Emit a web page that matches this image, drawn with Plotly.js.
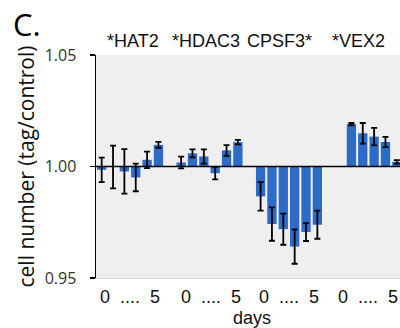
<!DOCTYPE html>
<html>
<head>
<meta charset="utf-8">
<script src="https://cdn.plot.ly/plotly-3.0.1.min.js"></script>
<style>html,body{margin:0;padding:0;background:#fff;}#chart{width:400px;height:328px;}</style>
</head>
<body>
<div id="chart"></div>
<script>
// ---- data ----
var groups = ['*HAT2', '*HDAC3', 'CPSF3*', '*VEX2'];
var days = [0, 1, 2, 3, 4, 5];
var hat2 = [0.9985, 0.9998, 0.9978, 0.9951, 1.0030, 1.0097];
var hat2Err = [0.0055, 0.0096, 0.0100, 0.0062, 0.0037, 0.0013];
var hdac3 = [1.0018, 1.0059, 1.0045, 0.9970, 1.0072, 1.0109];
var hdac3Err = [0.0026, 0.0018, 0.0032, 0.0028, 0.0024, 0.0010];
var cpsf3 = [0.9866, 0.9742, 0.9719, 0.9641, 0.9706, 0.9739];
var cpsf3Err = [0.0064, 0.0075, 0.0070, 0.0077, 0.0040, 0.0063];
var vex2 = [1.0190, 1.0149, 1.0134, 1.0110, 1.0021];
var vex2Err = [0.0005, 0.0046, 0.0039, 0.0023, 0.0008];
var baseline = 1.0;
var yTicks = [0.95, 1.00, 1.05];
var yTickText = ['0.95', '1.00', '1.05'];
var dayLabel = '0\u00a0 ....\u00a0 5';

// ---- layout helpers ----
var W = 400, H = 328, L = 96, R = 0, T = 55, B = 50;
var pw = W - L - R, ph = H - T - B;
function px(x) { return (x - L) / pw; }
function py(y) { return (H - B - y) / ph; }

var series = [hat2, hdac3, cpsf3, vex2];
var errs = [hat2Err, hdac3Err, cpsf3Err, vex2Err];
var groupStart = [0, 7, 14, 22];
var blue = '#2c6bc8';

var traces = series.map(function (vals, g) {
  return {
    type: 'bar',
    name: groups[g],
    x: vals.map(function (v, i) { return groupStart[g] + days[i]; }),
    y: vals.map(function (v) { return v - baseline; }),
    base: baseline,
    width: 0.82,
    marker: { color: blue, line: { width: 0 } },
    error_y: { type: 'data', array: errs[g], visible: true, color: '#000', thickness: 1.8, width: 3 },
    showlegend: false,
    hoverinfo: 'skip'
  };
});

var labelCenters = [133, 205.5, 279.5, 358.5];
var dayCenters = [130, 210.5, 288.7, 368.3];
var annotations = [];
groups.forEach(function (g, i) {
  annotations.push({ text: g, xref: 'paper', yref: 'paper', x: px(labelCenters[i]), y: py(41),
    xanchor: 'center', yanchor: 'middle', showarrow: false,
    font: { family: 'Liberation Sans, Arial, sans-serif', size: 18, color: '#111' } });
  annotations.push({ text: dayLabel, xref: 'paper', yref: 'paper', x: px(dayCenters[i]), y: py(297),
    xanchor: 'center', yanchor: 'middle', showarrow: false,
    font: { family: 'Liberation Sans, Arial, sans-serif', size: 18, color: '#111' } });
});
annotations.push({ text: 'days', xref: 'paper', yref: 'paper', x: px(251.7), y: py(318),
  xanchor: 'center', yanchor: 'middle', showarrow: false,
  font: { family: 'Liberation Sans, Arial, sans-serif', size: 18, color: '#111' } });
annotations.push({ text: 'C.', xref: 'paper', yref: 'paper', x: px(11), y: py(24),
  xanchor: 'left', yanchor: 'middle', showarrow: false,
  font: { family: 'Open Sans, sans-serif', size: 31, color: '#000' } });
annotations.push({ text: 'cell number (tag/control)', xref: 'paper', yref: 'paper', x: px(25), y: py(166.5),
  xanchor: 'center', yanchor: 'middle', textangle: -90, showarrow: false,
  font: { family: 'Open Sans, sans-serif', size: 21, color: '#111' } });

var layout = {
  width: W, height: H,
  margin: { l: L, r: R, t: T, b: B, pad: 0 },
  paper_bgcolor: '#ffffff',
  plot_bgcolor: '#efefef',
  bargap: 0.18,
  xaxis: { range: [-0.5, 26.28], showticklabels: false, ticks: '', showgrid: false, zeroline: false,
    showline: true, linecolor: '#d9d9d9', linewidth: 1 },
  yaxis: { range: [0.95, 1.05], tickvals: yTicks, ticktext: yTickText, ticks: 'outside', ticklen: 5,
    tickcolor: '#000', tickwidth: 1.5, showline: true, linecolor: '#000', linewidth: 1.5,
    showgrid: false, zeroline: false, ticklabelstandoff: 10,
    tickfont: { family: 'Open Sans, sans-serif', size: 16, color: '#333' } },
  shapes: [{ type: 'line', xref: 'paper', yref: 'y', x0: 0, x1: 1, y0: baseline, y1: baseline,
    line: { color: '#000', width: 1.6 }, layer: 'above' }],
  annotations: annotations
};

Plotly.newPlot('chart', traces, layout, { displayModeBar: false, staticPlot: true });
</script>
</body>
</html>
